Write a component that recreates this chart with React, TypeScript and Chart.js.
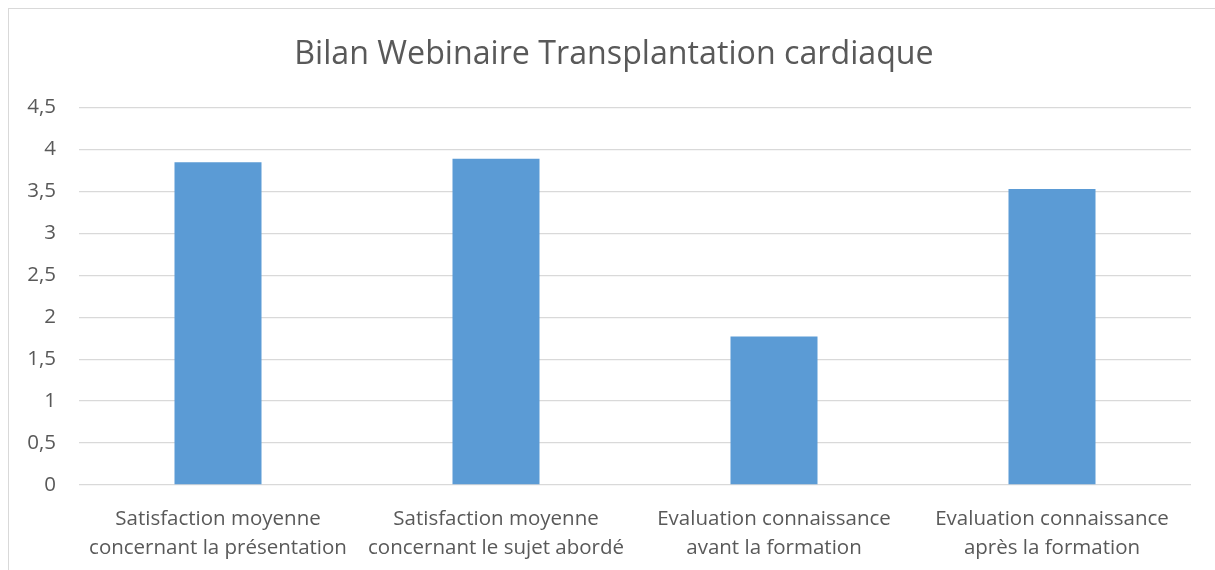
import React, { useEffect, useRef } from "react";
import { Chart, registerables } from "chart.js";

Chart.register(...registerables);

const TITLE = "Bilan Webinaire Transplantation cardiaque";
const categories: string[][] = [
  ["Satisfaction moyenne", "concernant la présentation"],
  ["Satisfaction moyenne", "concernant le sujet abordé"],
  ["Evaluation connaissance", "avant la formation"],
  ["Evaluation connaissance", "après la formation"],
];
const values: number[] = [3.85, 3.89, 1.77, 3.53];
const yMin = 0;
const yMax = 4.5;
const yStep = 0.5;

const FONT = "'Open Sans', 'Noto Sans', sans-serif";
const TEXT = "#595959";
const GRID = "#d9d9d9";
const BAR = "#5b9bd5";

const shiftTitle = {
  id: "shiftTitle",
  afterLayout(chart: any) {
    const t = chart.titleBlock;
    if (t) t.right += 28;
  },
};

export default function App() {
  const ref = useRef<HTMLCanvasElement | null>(null);
  useEffect(() => {
    if (!ref.current) return;
    const chart = new Chart(ref.current, {
      type: "bar",
      data: {
        labels: categories,
        datasets: [
          {
            data: values,
            backgroundColor: BAR,
            borderWidth: 0,
            barPercentage: 0.313,
            categoryPercentage: 1,
          },
        ],
      },
      plugins: [shiftTitle],
      options: {
        animation: false,
        responsive: true,
        maintainAspectRatio: false,
        layout: { padding: { left: 0, right: 25, top: 0, bottom: 0 } },
        plugins: {
          legend: { display: false },
          tooltip: { enabled: false },
          title: {
            display: true,
            text: TITLE,
            color: TEXT,
            font: { family: FONT, size: 32.2, weight: "normal" },
            padding: { top: 27, bottom: 33 },
          },
        },
        scales: {
          x: {
            grid: { display: false, drawTicks: false },
            border: { display: false },
            afterFit: (scale: any) => {
              scale.height = 86;
            },
            ticks: {
              color: TEXT,
              font: { family: FONT, size: 20.5, lineHeight: 1.45 },
              padding: 19,
              maxRotation: 0,
              minRotation: 0,
              autoSkip: false,
            },
          },
          y: {
            min: yMin,
            max: yMax,
            grid: { color: GRID, lineWidth: 1.3, drawTicks: false },
            border: { display: false },
            afterFit: (scale: any) => {
              scale.width = 70;
            },
            ticks: {
              stepSize: yStep,
              color: TEXT,
              padding: 23,
              font: { family: FONT, size: 20.5 },
              callback: (v: any) => String(v).replace(".", ","),
            },
          },
        },
      },
    });
    return () => chart.destroy();
  }, []);
  return (
    <div
      style={{
        position: "fixed",
        left: 8,
        top: 8,
        width: 1207,
        height: 562,
        borderTop: "1px solid #d9d9d9",
        borderLeft: "1px solid #d9d9d9",
        background: "#fff",
      }}
    >
      <canvas ref={ref} style={{ display: "block" }} />
    </div>
  );
}
